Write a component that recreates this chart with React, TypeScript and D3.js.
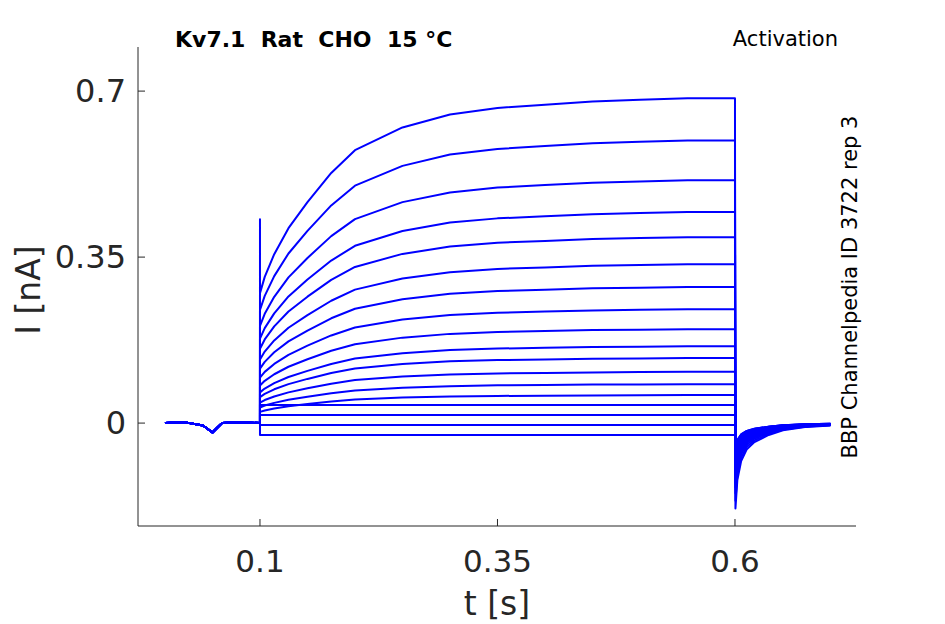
import * as d3 from 'd3'

// sampling times during the step (s)
const stepTimes = [0.1, 0.105, 0.115, 0.13, 0.15, 0.175, 0.2, 0.25, 0.3, 0.35, 0.4, 0.45, 0.5, 0.55, 0.6]
// activation shape (fraction of final value)
const stepShape = [0.4, 0.45, 0.52, 0.6, 0.68, 0.77, 0.84, 0.91, 0.95, 0.97, 0.98, 0.99, 0.995, 1.0, 1.0]
// final current of each sweep at t = 0.6 s (nA)
const finalValues = [0.685, 0.596, 0.512, 0.445, 0.392, 0.335, 0.287, 0.24, 0.198, 0.162, 0.137, 0.108, 0.082, 0.059, 0.038, 0.017, -0.004, -0.025]
// baseline before the step
const preTimes = [0.0, 0.02, 0.04, 0.05, 0.055, 0.06, 0.08, 0.1]
const preValues = [0.0, 0.002, -0.005, -0.02, -0.01, 0.0, 0.002, 0.0]
// tail after the step (scaled by sweep size)
const tailTimes = [0.6, 0.602, 0.606, 0.612, 0.62, 0.635, 0.65, 0.675, 0.7]
const tailValues = [-0.18, -0.12, -0.08, -0.055, -0.04, -0.025, -0.015, -0.008, -0.005]

const xTicks = [0.1, 0.35, 0.6]
const yTicks = [0, 0.35, 0.7]

export default function App() {
  const x = d3.scaleLinear().domain([-0.0284, 0.7274]).range([138, 856])
  const y = d3.scaleLinear().domain([-0.217, 0.793]).range([526, 47])
  const line = d3.line<[number, number]>().x(d => x(d[0])).y(d => y(d[1]))

  const sweeps = finalValues.map((v, i) => {
    const k = Math.max(v, 0) / 0.685
    const pts: [number, number][] = []
    preTimes.forEach((t, j) => pts.push([t, preValues[j]]))
    if (i === 0) pts.push([0.1, 0.43])
    stepTimes.forEach((t, j) => {
      const base = v > 0.05 ? v * stepShape[j] : v
      pts.push([t, base])
    })
    tailTimes.forEach((t, j) => pts.push([t + 0.0005, tailValues[j] * (0.3 + 0.7 * k)]))
    return pts
  })

  const font = 'DejaVu Sans, sans-serif'
  return (
    <svg width={929} height={616} style={{ display: 'block' }} fontFamily={font}>
      <g transform="translate(-8,-8)">
        {sweeps.map((s, i) => (
          <path key={i} d={line(s) || ''} fill="none" stroke="#0000ff" strokeWidth={2} strokeLinejoin="round" />
        ))}
        <line x1={138} x2={138} y1={47} y2={526} stroke="#262626" />
        <line x1={138} x2={856} y1={526} y2={526} stroke="#262626" />
        {xTicks.map(t => (
          <g key={t}>
            <line x1={x(t)} x2={x(t)} y1={526} y2={519} stroke="#262626" />
            <text x={x(t)} y={572} textAnchor="middle" fontSize={31} fill="#262626">{t}</text>
          </g>
        ))}
        {yTicks.map(t => (
          <g key={t}>
            <line x1={138} x2={145} y1={y(t)} y2={y(t)} stroke="#262626" />
            <text x={126} y={y(t) + 11} textAnchor="end" fontSize={32} fill="#262626">{t}</text>
          </g>
        ))}
        <text x={497} y={615} textAnchor="middle" fontSize={33} fill="#262626">t [s]</text>
        <text transform="translate(40,290) rotate(-90)" textAnchor="middle" fontSize={33} fill="#262626">I [nA]</text>
        <text x={175} y={47} fontSize={22} fontWeight="bold" style={{ whiteSpace: 'pre' }}>{'Kv7.1  Rat  CHO  15 °C'}</text>
        <text x={838} y={46} textAnchor="end" fontSize={21}>Activation</text>
        <text transform="translate(857,287) rotate(-90)" textAnchor="middle" fontSize={21}>BBP Channelpedia ID 3722 rep 3</text>
      </g>
    </svg>
  )
}
